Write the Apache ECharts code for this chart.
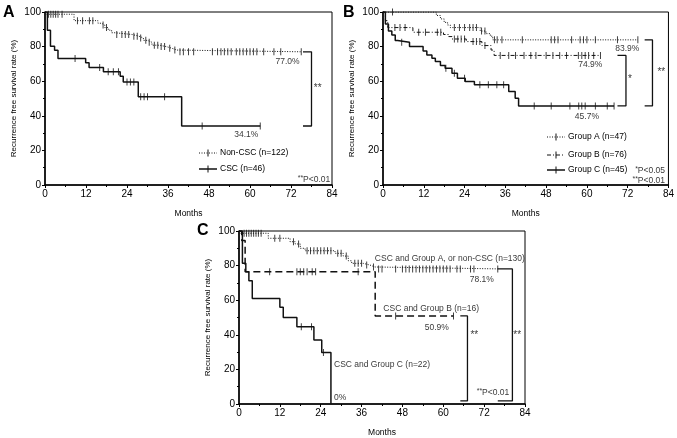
<!DOCTYPE html>
<html>
<head>
<meta charset="utf-8">
<script src="https://cdn.jsdelivr.net/npm/echarts@6/dist/echarts.min.js"></script>
<style>
  html, body { margin: 0; padding: 0; background: #fff; }
  #main { width: 677px; height: 438px; }
</style>
</head>
<body>
<div id="main"></div>
<script>
// Kaplan-Meier step points: [month, survival % after the drop]
var aNonCsc = [[0,100],[0.5,98.7],[8.5,95],[15.5,93.5],[16.5,92.5],[17.5,91],[18.5,89.5],[19.5,88],[20.5,87],[25.5,86],[27.5,85],[28.8,83.6],[30,82.5],[31.3,80.8],[33.5,80],[35.5,79],[37.2,78],[38.6,77],[75,77]];
var aNonCscCens = [1,1.7,2.4,3.1,3.8,5,9.5,11,13,14,17,18,21,22.5,23.5,24.5,26,27,28,29.5,30.5,32,33,34,35,36.5,38,39.5,40.5,42,43.5,49,50.5,51.5,52.5,53.5,54.5,56,57,58,59,60,61,62,64,67,69,75];
var aCsc = [[0,100],[0.7,89.4],[1.6,80.2],[2.8,77.9],[3.8,73.1],[11.9,70.6],[12.9,67.9],[17.1,65.4],[22,62.9],[22.9,59.6],[27.3,51],[40,34.1],[63,34.1]];
var aCscCens = [8.8,16,18.5,20,21.5,24,25,26,28,29,30,35,46,63];

var bGroupA = [[0,100],[15.7,98],[16.9,96],[18,94],[19,92.5],[19.8,91],[28.6,89],[30.3,87.5],[31.6,86],[32.3,83.9],[75,83.9]];
var bGroupACens = [2.8,21,22.5,24,25.5,26.5,27.5,29,30,32.8,33.6,35,41,49.5,50.5,51.5,55.5,58,59,60,62.5,69,75];
var bGroupB = [[0,100],[0.7,95],[1.4,91],[8.8,88.3],[17.8,87],[19.3,85.8],[20.3,84.4],[24.5,82.9],[29.1,80.6],[31.8,78],[32.7,74.9],[64,74.9]];
var bGroupBCens = [3.5,5,6.5,10.5,12.5,16,17,21,22,23,24,26.5,27.5,28.5,30,34.5,37,39,41.5,43.5,45,48,50,52,54,57.5,58.5,59.5,60.5,62,64];
var bGroupC = [[0,100],[0.7,93],[1.6,89],[2.6,86.7],[3.6,83.5],[4.3,82.5],[7.8,80],[11.8,77.5],[12.9,75.2],[14.4,73.3],[15.4,71.4],[16.9,69.1],[18.3,67.5],[20.3,64.6],[21.9,61.7],[24.2,59.8],[26.9,57.9],[37,54.1],[38.9,50.2],[39.9,45.7],[68,45.7]];
var bGroupCCens = [5.5,18.5,21,24,28.5,31,33.5,35.5,44.5,49.5,55,57.6,58.5,59.5,62.5,66,68];

var cGroupA = [[0,100],[0.5,98.7],[8.6,95.8],[15,93.8],[16.5,92.5],[18,90],[19.4,88.6],[28.2,87.1],[30.6,85.5],[32.1,82.8],[33.1,81.3],[36.5,80.3],[38.5,79.2],[39.9,78.1],[76,78.1]];
var cGroupACens = [1.5,2.2,2.9,3.6,4.3,5,5.7,6.5,10.5,12,16,17.5,20,21,22,23,24,25,26,27,29,30,31.5,34,35,36,37.5,39.5,41,42,46,48,49,50,51,52,53,54,55,56,57,58,59,60,61,62,64,65,68,69,76];
var cGroupB = [[0,100],[0.8,94.5],[1.8,76.5],[40,50.9],[63,50.9]];
var cGroupBCens = [9,17,18,19,20,21.5,22.5,35,46,63];
var cGroupC = [[0,100],[1,81.3],[2,76.5],[2.9,71.3],[3.9,61],[12,55.9],[13,50],[17,44.7],[22,37],[24.3,29.7],[27,0]];
var cGroupCCens = [18.3,21.3,24.8];

var xTicks = { min: 0, max: 84, interval: 12 };
var yTicks = { min: 0, max: 100, interval: 20 };

var ink = '#111';
var font = '"Liberation Sans", Arial, sans-serif';

function survAt(points, t) {
  var v = points[0][1];
  for (var i = 0; i < points.length; i++) {
    if (points[i][0] <= t) v = points[i][1];
  }
  return v;
}

function kmLine(idx, points, lineType, width) {
  return {
    type: 'line', xAxisIndex: idx, yAxisIndex: idx, step: 'end',
    data: points, showSymbol: false, silent: true, animation: false,
    lineStyle: { color: ink, width: width, type: lineType }
  };
}

function censors(idx, points, times) {
  return {
    type: 'scatter', xAxisIndex: idx, yAxisIndex: idx, silent: true, animation: false,
    symbol: 'rect', symbolSize: [1, 7],
    itemStyle: { color: ink },
    data: times.map(function (t) { return [t, survAt(points, t)]; })
  };
}

function bracket(idx, x0, x1, yTop, yBot) {
  return {
    type: 'line', xAxisIndex: idx, yAxisIndex: idx, silent: true, animation: false,
    showSymbol: false, lineStyle: { color: ink, width: 1.3 },
    data: [[x0, yTop], [x1, yTop], [x1, yBot], [x0, yBot]]
  };
}

// text anchored to data coordinates: pos 'right' = left aligned, 'inside' = centered, 'left' = right aligned
function note(idx, x, y, text, pos, size) {
  return {
    type: 'scatter', xAxisIndex: idx, yAxisIndex: idx, silent: true, animation: false,
    symbolSize: 0, data: [[x, y]],
    label: {
      show: true, position: pos, distance: 0, color: '#000',
      fontFamily: font, fontSize: size || 8.5,
      formatter: text,
      rich: { s: { fontSize: 7, verticalAlign: 'top', color: '#000', fontFamily: font, padding: [0, 0, 3, 0] },
              n: { fontSize: 8.5, color: '#000', fontFamily: font } }
    }
  };
}

function mkX(idx) {
  return {
    gridIndex: idx, type: 'value', min: xTicks.min, max: xTicks.max, interval: xTicks.interval,
    name: 'Months', nameLocation: 'middle', nameGap: 24,
    nameTextStyle: { color: '#000', fontSize: 8.5, fontFamily: font },
    axisLine: { onZero: false, lineStyle: { color: '#000', width: 1.5 } },
    axisTick: { length: 3, lineStyle: { color: '#000' } },
    minorTick: { show: true, splitNumber: 2, length: 2, lineStyle: { color: '#000' } },
    splitLine: { show: false },
    axisLabel: { color: '#000', fontSize: 10, fontFamily: font, margin: 4 }
  };
}

function mkY(idx) {
  return {
    gridIndex: idx, type: 'value', min: yTicks.min, max: yTicks.max, interval: yTicks.interval,
    name: 'Recurrence free survival rate (%)', nameLocation: 'middle', nameGap: 27,
    nameTextStyle: { color: '#000', fontSize: 8, fontFamily: font },
    axisLine: { onZero: false, lineStyle: { color: '#000', width: 1.5 } },
    axisTick: { length: 3, lineStyle: { color: '#000' } },
    minorTick: { show: true, splitNumber: 2, length: 2, lineStyle: { color: '#000' } },
    splitLine: { show: false },
    axisLabel: { color: '#000', fontSize: 10, fontFamily: font, margin: 4 }
  };
}

function legendItem(x, y, text, lineType, width) {
  return [
    { type: 'line', shape: { x1: x, y1: y, x2: x + 18, y2: y },
      style: { stroke: ink, lineWidth: width, lineDash: lineType } },
    { type: 'line', shape: { x1: x + 9, y1: y - 3.5, x2: x + 9, y2: y + 3.5 },
      style: { stroke: ink, lineWidth: 1 } },
    { type: 'text', x: x + 21, y: y,
      style: { text: text, fill: '#000', font: '8.5px ' + font, verticalAlign: 'middle' } }
  ];
}

var c = echarts.init(document.getElementById('main'));

var dotted = [1, 1.5];
var dashDot = [4, 2, 1, 2];

c.setOption({
  animation: false,
  grid: [
    { left: 45, top: 12, width: 287, height: 173, show: true, borderColor: '#000', borderWidth: 1 },
    { left: 383, top: 12, width: 286, height: 173, show: true, borderColor: '#000', borderWidth: 1 },
    { left: 239, top: 231, width: 286, height: 173, show: true, borderColor: '#000', borderWidth: 1 }
  ],
  xAxis: [mkX(0), mkX(1), mkX(2)],
  yAxis: [mkY(0), mkY(1), mkY(2)],
  series: [
    kmLine(0, aNonCsc, dotted, 1), censors(0, aNonCsc, aNonCscCens),
    kmLine(0, aCsc, 'solid', 1.5), censors(0, aCsc, aCscCens),
    bracket(0, 75.5, 78, 77, 34.1),
    note(0, 79.8, 56, '**', 'inside', 10),
    note(0, 71, 71.2, '77.0%', 'inside'),
    note(0, 58.9, 28.9, '34.1%', 'inside'),
    note(0, 83.5, 2.9, '{s|**}{n|P<0.01}', 'left'),

    kmLine(1, bGroupA, dotted, 1), censors(1, bGroupA, bGroupACens),
    kmLine(1, bGroupB, dashDot, 1), censors(1, bGroupB, bGroupBCens),
    kmLine(1, bGroupC, 'solid', 1.5), censors(1, bGroupC, bGroupCCens),
    bracket(1, 69, 71.5, 74.9, 45.7),
    bracket(1, 77, 79.3, 83.9, 45.7),
    note(1, 72.7, 61.2, '*', 'inside', 10),
    note(1, 81.9, 65.4, '**', 'inside', 10),
    note(1, 71.9, 79, '83.9%', 'inside'),
    note(1, 61, 69.8, '74.9%', 'inside'),
    note(1, 60, 39.4, '45.7%', 'inside'),
    note(1, 83, 8.3, '{s|*}{n|P<0.05}', 'left'),
    note(1, 83, 2.3, '{s|**}{n|P<0.01}', 'left'),

    kmLine(2, cGroupA, dotted, 1), censors(2, cGroupA, cGroupACens),
    kmLine(2, cGroupB, [7, 4], 1.5), censors(2, cGroupB, cGroupBCens),
    kmLine(2, cGroupC, 'solid', 1.5), censors(2, cGroupC, cGroupCCens),
    bracket(2, 65, 67.1, 50.9, 1.8),
    bracket(2, 76, 80.3, 78.1, 1.8),
    note(2, 69.1, 39.9, '**', 'inside', 10),
    note(2, 81.7, 39.9, '**', 'inside', 10),
    note(2, 39.9, 83.8, 'CSC and Group A, or non-CSC (n=130)', 'right'),
    note(2, 71.3, 71.7, '78.1%', 'inside'),
    note(2, 42.4, 55.3, 'CSC and Group B (n=16)', 'right'),
    note(2, 58.1, 44.3, '50.9%', 'inside'),
    note(2, 27.9, 22.5, 'CSC and Group C (n=22)', 'right'),
    note(2, 27.9, 3.9, '0%', 'right'),
    note(2, 69.8, 6.5, '{s|**}{n|P<0.01}', 'right')
  ],
  graphic: [
    { type: 'text', x: 3, y: 5, style: { text: 'A', fill: '#000', font: 'bold 16px ' + font } },
    { type: 'text', x: 343, y: 5, style: { text: 'B', fill: '#000', font: 'bold 16px ' + font } },
    { type: 'text', x: 197, y: 223, style: { text: 'C', fill: '#000', font: 'bold 16px ' + font } }
  ]
    .concat(legendItem(199, 153, 'Non-CSC (n=122)', dotted, 1))
    .concat(legendItem(199, 169, 'CSC (n=46)', null, 1.5))
    .concat(legendItem(547, 137, 'Group A (n=47)', dotted, 1))
    .concat(legendItem(547, 155, 'Group B (n=76)', dashDot, 1))
    .concat(legendItem(547, 170, 'Group C (n=45)', null, 1.5))
});
</script>
</body>
</html>
